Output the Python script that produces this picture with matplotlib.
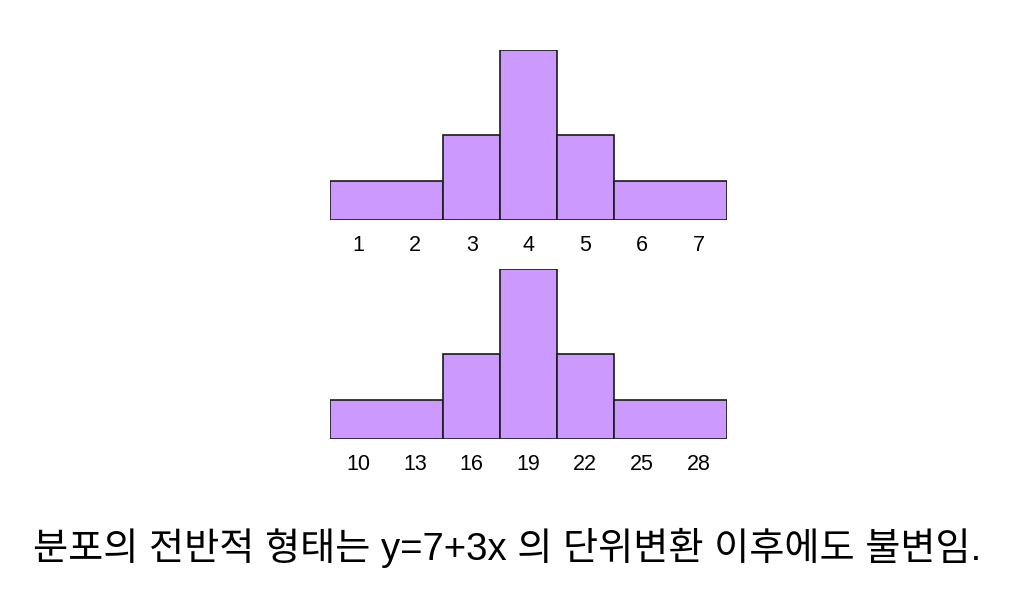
import numpy as np
import matplotlib.pyplot as plt

# 원래 자료의 히스토그램 구간과 높이
x_edges = [0.5, 2.5, 3.5, 4.5, 5.5, 7.5]
x_ticks = [1, 2, 3, 4, 5, 6, 7]
heights = [0.115, 0.25, 0.5, 0.25, 0.115]

# y = 7 + 3x 변환 후
y_edges = [8.5, 14.5, 17.5, 20.5, 23.5, 29.5]
y_ticks = [10, 13, 16, 19, 22, 25, 28]

caption = "분포의 전반적 형태는 y=7+3x 의 단위변환 이후에도 불변임."

bar_color = "#CC99FF"

plt.rcParams['font.family'] = ['Liberation Sans', 'Noto Sans CJK KR', 'DejaVu Sans']

fig = plt.figure(figsize=(10.34, 5.96), dpi=100)

W, H = 1034, 596


def draw_hist(rect, edges, ticks, vals):
    ax = fig.add_axes(rect)
    edges = np.array(edges, dtype=float)
    widths = np.diff(edges)
    ax.bar(edges[:-1], vals, width=widths, align='edge',
           color=bar_color, edgecolor='#1a1a1a', linewidth=1.2)
    ax.set_xlim(edges[0], edges[-1])
    ax.set_ylim(0, 0.5)
    ax.set_xticks(ticks)
    ax.set_xticklabels([str(t) for t in ticks], fontsize=15.5)
    ax.tick_params(axis='x', length=0, pad=11)
    ax.set_yticks([])
    for s in ax.spines.values():
        s.set_visible(False)
    ax.patch.set_alpha(0)
    return ax


# 위: 원자료, 아래: 변환 자료
draw_hist([330 / W, (H - 220) / H, 397 / W, 170 / H], x_edges, x_ticks, heights)
draw_hist([330 / W, (H - 439) / H, 397 / W, 170 / H], y_edges, y_ticks, heights)

fig.text(507 / W, (H - 548) / H, caption, fontsize=27.5,
         ha='center', va='center')

fig.savefig("out.png", dpi=100)
